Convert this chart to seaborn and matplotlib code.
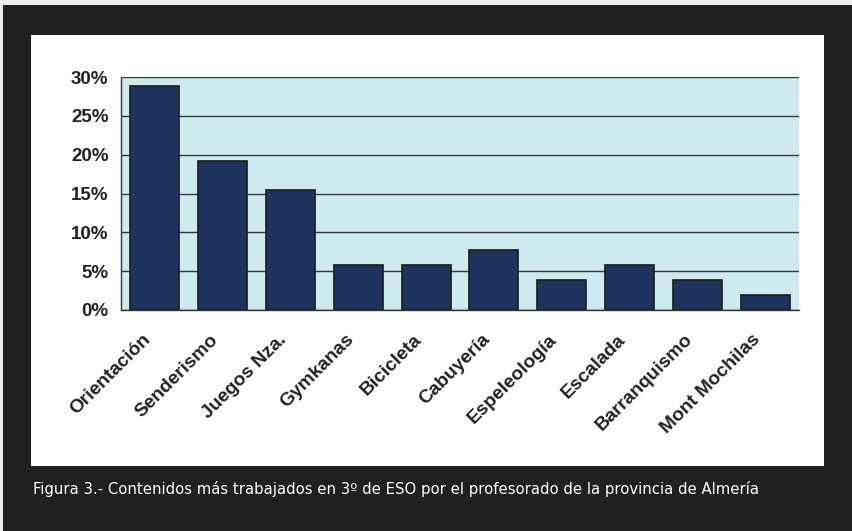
import matplotlib
matplotlib.use('Agg')
import numpy as np
import pandas as pd
import seaborn as sns
import matplotlib.pyplot as plt
import matplotlib.transforms as mtransforms
from matplotlib.patches import Rectangle
from matplotlib.ticker import FuncFormatter, MultipleLocator

categorias = ['Orientación', 'Senderismo', 'Juegos Nza.', 'Gymkanas', 'Bicicleta',
              'Cabuyería', 'Espeleología', 'Escalada', 'Barranquismo', 'Mont Mochilas']
porcentajes = [28.8, 19.2, 15.4, 5.8, 5.8, 7.7, 3.8, 5.8, 3.8, 1.9]
pie = 'Figura 3.- Contenidos más trabajados en 3º de ESO por el profesorado de la provincia de Almería'

sns.set_style('white')
plt.rcParams['font.family'] = ['Liberation Sans', 'DejaVu Sans']

W, H = 852, 531
fig = plt.figure(figsize=(W / 100, H / 100), dpi=100, facecolor='#eeeeee')
# marco oscuro y panel blanco, por detrás de los ejes
fig.patches.append(Rectangle((3 / W, 0), 1, 526 / H, transform=fig.transFigure,
                             facecolor='#231f20', edgecolor='none', zorder=-10))
fig.patches.append(Rectangle((31 / W, 1 - 466 / H), 793 / W, 431 / H, transform=fig.transFigure,
                             facecolor='white', edgecolor='none', zorder=-9))

ax = fig.add_axes([121 / W, 1 - 310 / H, 678 / W, 233 / H])
df = pd.DataFrame({'Contenido': categorias, 'Porcentaje': porcentajes})
sns.barplot(data=df, x='Contenido', y='Porcentaje', color='#1e345e', saturation=1,
            edgecolor='#1a1a1a', linewidth=1.2, width=0.72, ax=ax)

ax.set_facecolor('#cdeaee')
ax.set_xlim(-0.5, len(categorias) - 0.5)
ax.set_ylim(0, 30)
ax.yaxis.set_major_locator(MultipleLocator(5))
ax.yaxis.set_major_formatter(FuncFormatter(lambda v, p: f'{v:.0f}%'))
ax.grid(axis='y', color='#383838', linewidth=1)
ax.set_axisbelow(True)
ax.set_xlabel('')
ax.set_ylabel('')

for s in ['top', 'right']:
    ax.spines[s].set_visible(False)
for s in ['left', 'bottom']:
    ax.spines[s].set_color('#333333')
    ax.spines[s].set_linewidth(1)

ax.set_xticks(np.arange(len(categorias) + 1) - 0.5, minor=True)
ax.tick_params(axis='x', which='major', length=0, pad=19.5)
ax.tick_params(axis='x', which='minor', length=5, color='#333333', direction='out')
ax.tick_params(axis='y', length=5, color='#333333', direction='out', labelsize=13.5, pad=4)
ax.set_xticks(range(len(categorias)))
ax.set_xticklabels(categorias, rotation=45, ha='right', va='center', rotation_mode='anchor',
                   fontsize=13.8, fontweight='bold', color='#222222')
# las etiquetas terminan un poco a la izquierda del centro de cada barra
desplazar = mtransforms.ScaledTranslation(-7 / 100, 0, fig.dpi_scale_trans)
for lbl in ax.get_xticklabels():
    lbl.set_transform(lbl.get_transform() + desplazar)
for lbl in ax.get_yticklabels():
    lbl.set_fontweight('bold')
    lbl.set_color('#222222')

txt = fig.text(33 / W, 1 - 494 / H, pie, color='white', fontsize=14, va='baseline',
               family=['DejaVu Sans'], fontstretch='condensed')
# ajustar el tamaño para que el pie ocupe el mismo ancho que en el original
fig.canvas.draw()
ancho = txt.get_window_extent().width
if ancho > 726:
    txt.set_fontsize(14 * 726 / ancho)

fig.savefig('out.png', dpi=100, facecolor=fig.get_facecolor())
